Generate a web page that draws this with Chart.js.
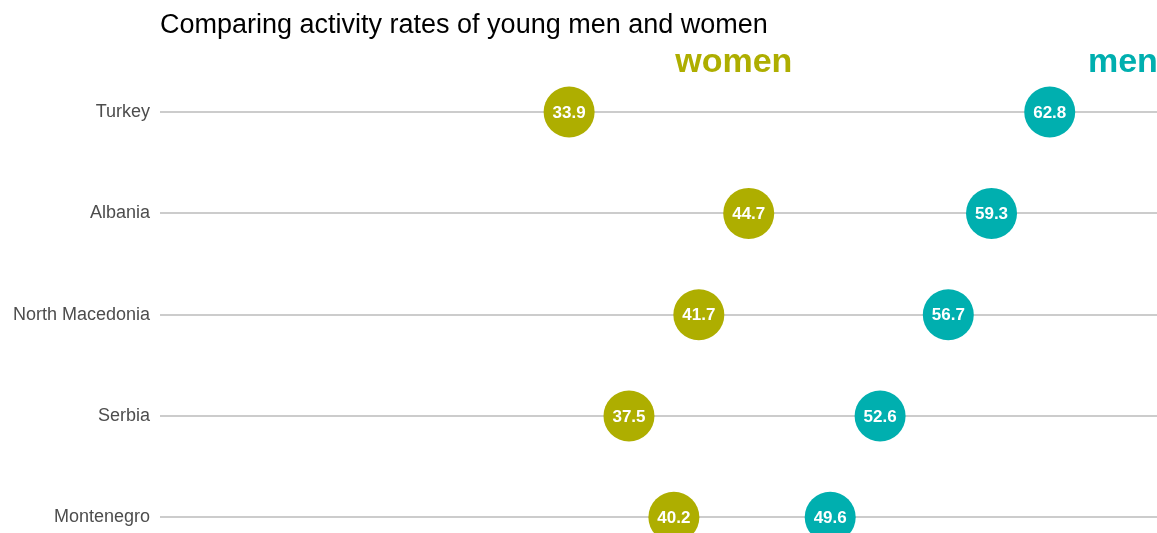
<!DOCTYPE html>
<html>
<head>
<meta charset="utf-8">
<script src="https://cdn.jsdelivr.net/npm/chart.js@4/dist/chart.umd.min.js"></script>
<style>
  html, body { margin: 0; padding: 0; background: #fff; overflow: hidden; }
  canvas { display: block; }
</style>
</head>
<body>
<canvas id="dotChart" width="1157" height="568"></canvas>
<script>
var countries = ["Turkey", "Albania", "North Macedonia", "Serbia", "Montenegro"];
var women = [33.9, 44.7, 41.7, 37.5, 40.2];
var men = [62.8, 59.3, 56.7, 52.6, 49.6];

var womenColor = '#AEAE00';
var menColor = '#00AFAF';
var font = '"Liberation Sans", Arial, sans-serif';

// title, series names and the numbers inside the dots
var labelsPlugin = {
    id: 'dotLabels',
    afterDatasetsDraw: function (chart) {
        var ctx = chart.ctx;
        var xs = chart.scales.x;
        ctx.save();
        chart.data.datasets.forEach(function (ds, i) {
            var meta = chart.getDatasetMeta(i);
            meta.data.forEach(function (pt, j) {
                ctx.fillStyle = '#fff';
                ctx.font = 'bold 17px ' + font;
                ctx.textAlign = 'center';
                ctx.textBaseline = 'middle';
                ctx.fillText(ds.data[j].toFixed(1), pt.x, pt.y + 1);
            });
        });

        ctx.fillStyle = '#000';
        ctx.font = '27px ' + font;
        ctx.textAlign = 'left';
        ctx.textBaseline = 'middle';
        ctx.fillText('Comparing activity rates of young men and women', chart.chartArea.left, 26);

        ctx.font = 'bold 34px ' + font;
        ctx.textAlign = 'center';
        ctx.fillStyle = womenColor;
        ctx.fillText('women', xs.getPixelForValue(43.8), 63);
        ctx.fillStyle = menColor;
        ctx.fillText('men', xs.getPixelForValue(67.2), 63);
        ctx.restore();
    }
};

var ctxD = document.getElementById("dotChart");
if (ctxD) {
    var dotChart = new Chart(ctxD, {
        type: 'line',
        data: {
            labels: countries,
            datasets: [{
                label: 'women',
                data: women,
                showLine: false,
                pointRadius: 25.5,
                pointHoverRadius: 25.5,
                pointBackgroundColor: womenColor,
                pointBorderWidth: 0,
                clip: false
            }, {
                label: 'men',
                data: men,
                showLine: false,
                pointRadius: 25.5,
                pointHoverRadius: 25.5,
                pointBackgroundColor: menColor,
                pointBorderWidth: 0,
                clip: false
            }]
        },
        options: {
            indexAxis: 'y',
            responsive: false,
            animation: false,
            devicePixelRatio: 1,
            layout: {
                autoPadding: false,
                padding: { top: 61.4, right: 0, bottom: 0, left: 0 }
            },
            plugins: {
                legend: { display: false },
                title: { display: false },
                tooltip: { enabled: false }
            },
            scales: {
                x: {
                    type: 'linear',
                    min: 9.3,
                    max: 69.25,
                    display: false
                },
                y: {
                    type: 'category',
                    offset: true,
                    border: { display: false },
                    grid: {
                        offset: false,
                        drawTicks: false,
                        color: '#CCCCCC',
                        lineWidth: 2
                    },
                    ticks: {
                        color: '#4D4D4D',
                        font: { family: font, size: 18 },
                        padding: 10
                    },
                    afterFit: function (scale) {
                        scale.width = 160;
                        // labels sit mid-band, no extra room needed above/below
                        scale.paddingTop = 0;
                        scale.paddingBottom = 0;
                    }
                }
            }
        },
        plugins: [labelsPlugin]
    });
}
</script>
</body>
</html>
